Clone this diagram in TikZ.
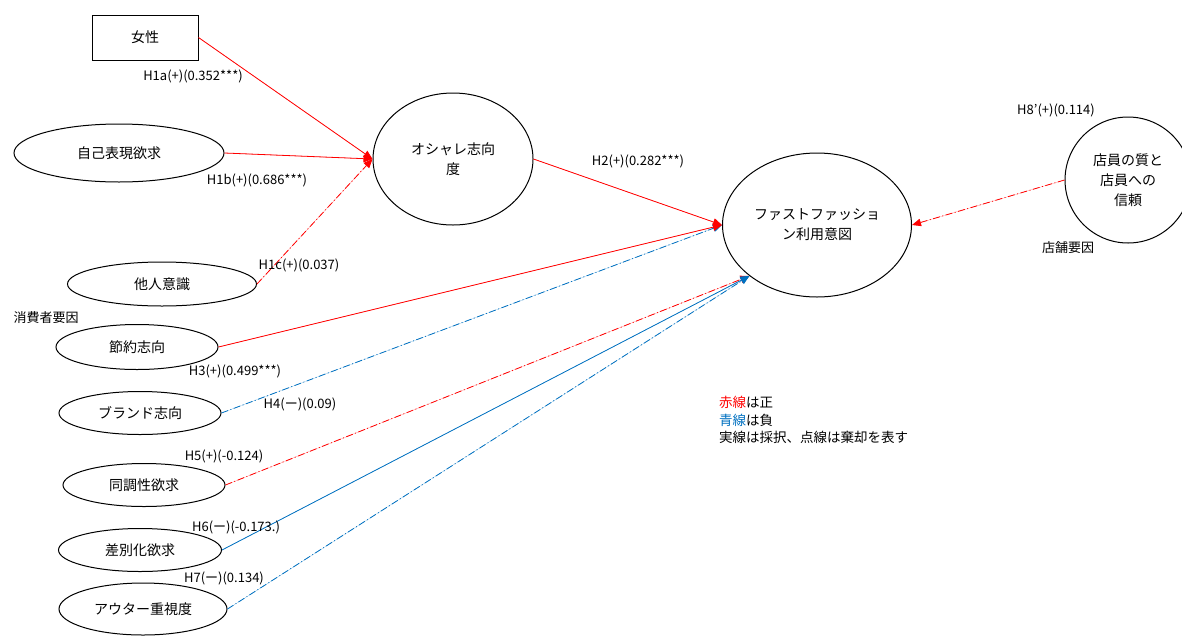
\documentclass[tikz,border=0pt]{standalone}
\usepackage{fontspec}
\setmainfont{Noto Sans CJK JP}
\usetikzlibrary{shapes.geometric,arrows.meta}
\definecolor{posred}{RGB}{255,0,0}
\definecolor{negblue}{RGB}{0,112,192}
\tikzset{
  lbl/.style={font=\fontsize{13}{16}\selectfont, inner sep=0pt},
  ell/.style={draw=black, line width=1pt, ellipse, inner sep=0pt, align=center, font=\fontsize{14}{20}\selectfont},
  boxnode/.style={draw=black, line width=1pt, rectangle, inner sep=0pt, font=\fontsize{14}{20}\selectfont},
  conn/.style={line width=0.8pt, -{Triangle[length=9pt,width=7.5pt]}},
  redarrow/.style={conn, draw=posred, fill=posred},
  bluearrow/.style={conn, draw=negblue, fill=negblue},
  dotdash/.style={dash pattern=on 7pt off 2.5pt on 1pt off 2.5pt},
}
\begin{document}
\begin{tikzpicture}[x=1pt,y=-1pt]
\useasboundingbox (0,0) rectangle (1182,635);
% nodes
\node[boxnode, minimum width=106pt, minimum height=45pt] (jos) at (145,37.5) {女性};
\node[ell, minimum width=210pt, minimum height=58pt] (jiko) at (119,153) {自己表現欲求};
\node[ell, minimum width=189pt, minimum height=44pt] (tanin) at (162,284) {他人意識};
\node[ell, minimum width=162pt, minimum height=45pt] (setsu) at (137,347) {節約志向};
\node[ell, minimum width=162pt, minimum height=43pt] (brand) at (140,413) {ブランド志向};
\node[ell, minimum width=162pt, minimum height=43pt] (doucho) at (144,485) {同調性欲求};
\node[ell, minimum width=163pt, minimum height=43pt] (sabetsu) at (140,550) {差別化欲求};
\node[ell, minimum width=168pt, minimum height=52pt] (outer) at (143,609) {アウター重視度};
\node[ell, minimum width=160pt, minimum height=132pt] (osh) at (453,159) {オシャレ志向\\度};
\node[ell, minimum width=189pt, minimum height=144pt] (ff) at (817,225) {ファストファッショ\\ン利用意図};
\node[ell, minimum width=126pt, minimum height=126pt] (tenin) at (1128,180) {店員の質と\\店員への\\信頼};
% group labels
\node[lbl] (shohi) at (46,318) {消費者要因};
\node[lbl] (tenpo) at (1068,248) {店舗要因};
% connectors
\draw[redarrow] (jos.east) -- (osh.west);
\draw[redarrow] (jiko.east) -- (osh.west);
\draw[redarrow, dotdash] (tanin.east) -- (osh.west);
\draw[redarrow] (osh.east) -- (ff.west);
\draw[bluearrow, dotdash] (brand.east) -- (ff.west);
\draw[redarrow] (setsu.east) -- (ff.west);
\draw[redarrow, dotdash] (doucho.east) -- (ff.217);
\draw[bluearrow, dotdash] (outer.east) -- (ff.217);
\draw[bluearrow] (sabetsu.east) -- (ff.217);
\draw[redarrow, dotdash] (tenin.west) -- (ff.east);
% path labels
\node[lbl] (l1a) at (193,76) {H1a(+)(0.352***)};
\node[lbl] (l1b) at (257,180) {H1b(+)(0.686***)};
\node[lbl] (l1c) at (299,265) {H1c(+)(0.037)};
\node[lbl] (l2) at (638,161) {H2(+)(0.282***)};
\node[lbl] (l3) at (235,371) {H3(+)(0.499***)};
\node[lbl] (l4) at (300,404) {H4(ー)(0.09)};
\node[lbl] (l5) at (224,456) {H5(+)(-0.124)};
\node[lbl] (l6) at (236,527) {H6(ー)(-0.173.)};
\node[lbl] (l7) at (224,578) {H7(ー)(0.134)};
\node[lbl] (l8) at (1056,110) {H8’(+)(0.114)};
% legend
\node[lbl, anchor=north west, align=left, font=\fontsize{13.5}{17.5}\selectfont] (legend) at (719,396)
  {\textcolor{posred}{赤線}は正\\\textcolor{negblue}{青線}は負\\実線は採択、点線は棄却を表す};
\end{tikzpicture}
\end{document}
